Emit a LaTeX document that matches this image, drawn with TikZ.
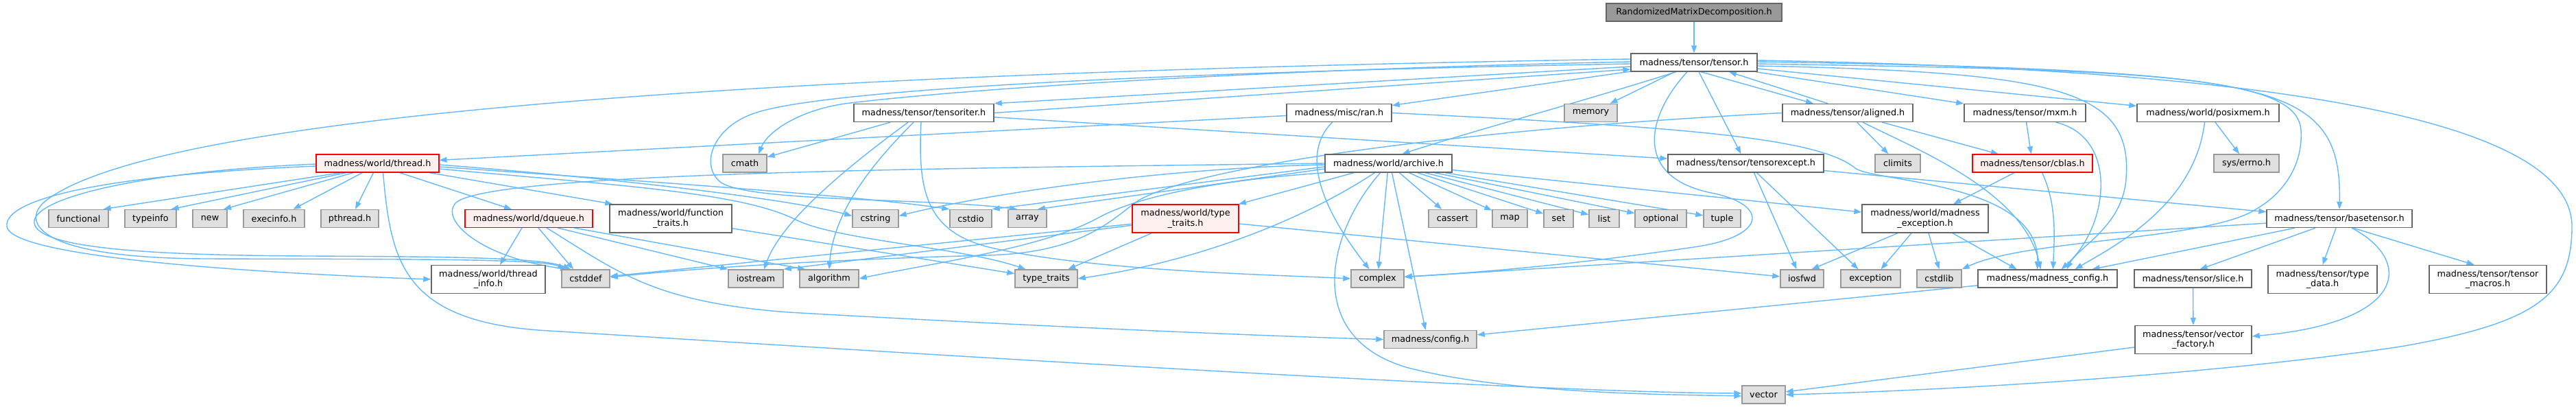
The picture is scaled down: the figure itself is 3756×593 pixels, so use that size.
\documentclass[tikz,border=0pt]{standalone}
\usepackage{fontspec}
\setmainfont{DejaVu Sans}
\usetikzlibrary{arrows.meta}
\pgfdeclarelayer{bg}
\pgfsetlayers{bg,main}
\definecolor{edgeblue}{HTML}{63B8FF}
\definecolor{sysfill}{HTML}{E0E0E0}
\definecolor{sysdraw}{HTML}{999999}
\definecolor{boxdraw}{HTML}{666666}
\definecolor{redfill}{HTML}{FFF0F0}
\definecolor{redline}{HTML}{FF0000}
\begin{document}
\begin{tikzpicture}[x=1pt,y=-1pt,
  font=\fontsize{12.8}{14.5}\selectfont,
  filebox/.style={draw=boxdraw,fill=white,line width=1.4pt,inner sep=0pt,align=center,minimum height=26pt},
  sysbox/.style={filebox,draw=sysdraw,fill=sysfill},
  redbox/.style={filebox,draw=redline,fill=redfill,line width=1.1pt},
  rootbox/.style={filebox,draw=boxdraw,fill=sysdraw},
  tall/.style={minimum height=41pt},
  dep/.style={draw=edgeblue,line width=1.4pt,-{Triangle[length=11pt,width=8pt]}}]
\useasboundingbox (0,0) rectangle (3756,593);

% nodes
\node[rootbox,minimum width=256pt] (R) at (2470,18) {RandomizedMatrixDecomposition.h};
\node[filebox,minimum width=184pt] (T) at (2470,91) {madness/tensor/tensor.h};
\node[filebox,minimum width=204pt] (TI) at (1347,164.5) {madness/tensor/tensoriter.h};
\node[filebox,minimum width=153pt] (ran) at (1952.5,164.5) {madness/misc/ran.h};
\node[sysbox,minimum width=77pt] (memory) at (2319.5,164.5) {memory};
\node[filebox,minimum width=190pt] (aligned) at (2694,164.5) {madness/tensor/aligned.h};
\node[filebox,minimum width=177pt] (mxm) at (2952.5,164.5) {madness/tensor/mxm.h};
\node[filebox,minimum width=207pt] (posixmem) at (3219.5,164.5) {madness/world/posixmem.h};
\node[redbox,minimum width=179pt] (thread) at (550.5,238) {madness/world/thread.h};
\node[sysbox,minimum width=64pt] (cmath) at (1086,238) {cmath};
\node[filebox,minimum width=185pt] (archive) at (2024.5,238) {madness/world/archive.h};
\node[filebox,minimum width=227pt] (texcept) at (2545.5,238) {madness/tensor/tensorexcept.h};
\node[sysbox,minimum width=66pt] (climits) at (2767,238) {climits};
\node[redbox,minimum width=175pt] (cblas) at (2963.5,238) {madness/tensor/cblas.h};
\node[sysbox,minimum width=95pt] (errno) at (3275.5,238) {sys/errno.h};
\node[sysbox,minimum width=87pt] (functional) at (114.5,318.5) {functional};
\node[sysbox,minimum width=75pt] (typeinfo) at (219.5,318.5) {typeinfo};
\node[sysbox,minimum width=50pt] (nnew) at (306,318.5) {new};
\node[sysbox,minimum width=89pt] (execinfo) at (399.5,318.5) {execinfo.h};
\node[sysbox,minimum width=84pt] (pthread) at (510,318.5) {pthread.h};
\node[redbox,minimum width=186pt] (dqueue) at (771,318.5) {madness/world/dqueue.h};
\node[filebox,tall,minimum width=178pt] (ftraits) at (978,318.5) {madness/world/function\\\_traits.h};
\node[sysbox,minimum width=67pt] (cstring) at (1276.5,318.5) {cstring};
\node[sysbox,minimum width=61pt] (cstdio) at (1415.5,318.5) {cstdio};
\node[sysbox,minimum width=56pt] (array) at (1498,318.5) {array};
\node[redbox,tall,minimum width=155pt] (wtt) at (1728.5,318.5) {madness/world/type\\\_traits.h};
\node[sysbox,minimum width=70pt] (cassert) at (2118,318.5) {cassert};
\node[sysbox,minimum width=51pt] (nmap) at (2201.5,318.5) {map};
\node[sysbox,minimum width=43pt] (nset) at (2272.5,318.5) {set};
\node[sysbox,minimum width=44pt] (nlist) at (2339,318.5) {list};
\node[sysbox,minimum width=75pt] (optional) at (2421.5,318.5) {optional};
\node[sysbox,minimum width=54pt] (tuple) at (2511,318.5) {tuple};
\node[filebox,tall,minimum width=184pt] (mexc) at (2807,318.5) {madness/world/madness\\\_exception.h};
\node[filebox,minimum width=212pt] (basetensor) at (3411,318.5) {madness/tensor/basetensor.h};
\node[filebox,tall,minimum width=166pt] (tinfo) at (712,407) {madness/world/thread\\\_info.h};
\node[sysbox,minimum width=70pt] (cstddef) at (854,406) {cstddef};
\node[sysbox,minimum width=80pt] (iostream) at (1102,406) {iostream};
\node[sysbox,minimum width=86pt] (algorithm) at (1209,406) {algorithm};
\node[sysbox,minimum width=91pt] (stt) at (1525.5,406) {type\_traits};
\node[sysbox,minimum width=77pt] (complex) at (2008.5,406) {complex};
\node[sysbox,minimum width=63pt] (iosfwd) at (2627.5,406) {iosfwd};
\node[sysbox,minimum width=87pt] (exception) at (2727.5,406) {exception};
\node[sysbox,minimum width=65pt] (cstdlib) at (2827.5,406) {cstdlib};
\node[filebox,minimum width=203pt] (mconfig) at (2985.5,406) {madness/madness\_config.h};
\node[filebox,minimum width=171pt] (slice) at (3197.5,406) {madness/tensor/slice.h};
\node[filebox,tall,minimum width=159pt] (tdata) at (3386.5,407) {madness/tensor/type\\\_data.h};
\node[filebox,tall,minimum width=171pt] (macros) at (3627.5,407) {madness/tensor/tensor\\\_macros.h};
\node[sysbox,minimum width=135pt] (config) at (2085.5,494.5) {madness/config.h};
\node[filebox,tall,minimum width=170pt] (vfactory) at (3198,495) {madness/tensor/vector\\\_factory.h};
\node[sysbox,minimum width=63pt] (vector) at (2571.5,575) {vector};

\begin{pgfonlayer}{bg}
\fill[white] (0,0) rectangle (3756,593);
% root / tensor.h
\draw[dep] (R) -- (T);
\draw[dep] ([yshift=-6pt]T.west) -- (TI.north east);
\draw[dep] (TI.east) -- ([yshift=-10pt]T.west);
\draw[dep] (T) -- (memory);
\draw[dep] (T) -- (ran);
\draw[dep] ([xshift=-26pt]T.south) .. controls (2300,150) and (2150,190) .. ([xshift=20pt]archive.north);
\draw[dep] (T) -- (texcept);
\draw[dep] ([xshift=10pt]T.south) -- ([xshift=-50pt]aligned.north);
\draw[dep] ([xshift=-29pt]aligned.north) -- ([xshift=51pt]T.south);
\draw[dep] (T) -- (mxm);
\draw[dep] (T) -- (posixmem);
\draw[dep] ([yshift=-2pt]T.east) .. controls (3300,105) and (3415,110) .. (basetensor.north);
\draw[dep] ([yshift=3pt]T.east) .. controls (3400,102) and (3750,190) .. (3750,330) .. controls (3750,430) and (3700,470) .. (3500,505) .. controls (3200,550) and (2800,570) .. (vector.east);
\draw[dep] ([yshift=-5pt]T.east) .. controls (3000,105) and (3110,130) .. (3100,260) .. controls (3095,330) and (3030,360) .. ([xshift=28pt]mconfig.north);
\draw[dep] ([yshift=1pt]T.east) .. controls (3200,100) and (3350,120) .. (3355,190) .. controls (3358,240) and (3330,285) .. (3280,310) .. controls (3200,350) and (2950,350) .. (cstdlib.north east);
\draw[dep] ([xshift=-10pt]T.south) .. controls (2400,170) and (2380,260) .. (2500,282) .. controls (2580,300) and (2575,345) .. (2470,360) .. controls (2300,385) and (2150,398) .. ([yshift=3pt]complex.east);
\draw[dep] ([yshift=1pt]T.west) .. controls (1900,100) and (1450,125) .. (1240,150) .. controls (1170,158) and (1120,190) .. ([xshift=20pt]cmath.north);
\draw[dep] ([yshift=-2pt]T.west) .. controls (1700,105) and (1200,130) .. (1100,165) .. controls (1040,185) and (1020,240) .. (1050,265) .. controls (1090,295) and (1350,288) .. ([xshift=-15pt]array.north);
\draw[dep] ([yshift=5pt]T.west) .. controls (1200,105) and (250,160) .. (70,290) .. controls (30,318) and (40,376) .. (300,377) .. controls (550,378) and (790,376) .. ([xshift=-30pt]cstddef.north);
% tensoriter.h
\draw[dep] (TI) -- (cmath);
\draw[dep] ([xshift=-4pt]TI.south) .. controls (1338,280) and (1350,340) .. (1450,362) .. controls (1600,395) and (1850,400) .. (complex.west);
\draw[dep] ([xshift=-23pt]TI.south) .. controls (1240,240) and (1140,320) .. ([xshift=12pt]iostream.north);
\draw[dep] ([xshift=-15pt]TI.south) .. controls (1270,240) and (1215,310) .. (algorithm.north);
\draw[dep] (TI) -- (texcept);
% ran.h
\draw[dep] (ran) -- (thread);
\draw[dep] ([xshift=-10pt]ran.south) .. controls (1890,230) and (1940,320) .. ([xshift=-12pt]complex.north);
\draw[dep] (ran.east) .. controls (2450,185) and (2650,200) .. (2705,245) .. controls (2730,265) and (2975,265) .. ([xshift=-15pt]mconfig.north);
% aligned.h
\draw[dep] (aligned) -- (climits);
\draw[dep] (aligned) -- (cblas);
\draw[dep] ([xshift=22pt]aligned.south) .. controls (2800,220) and (2950,280) .. ([xshift=-10pt]mconfig.north);
\draw[dep] (aligned.west) .. controls (2100,190) and (1740,245) .. (1660,292) .. controls (1620,320) and (1580,368) .. (1440,372) .. controls (1200,378) and (1000,392) .. ([yshift=2pt]cstddef.east);
% mxm.h, posixmem.h, cblas.h
\draw[dep] (mxm) -- (cblas);
\draw[dep] ([xshift=45pt]mxm.south) .. controls (3090,200) and (3075,330) .. ([xshift=20pt]mconfig.north);
\draw[dep] (posixmem) -- (errno);
\draw[dep] ([xshift=-5pt]posixmem.south) .. controls (3200,300) and (3080,360) .. ([xshift=40pt]mconfig.north);
\draw[dep] (cblas) -- (mexc);
\draw[dep] ([xshift=14pt]cblas.south) .. controls (3000,300) and (2995,350) .. ([xshift=8pt]mconfig.north);
% thread.h
\draw[dep] ([xshift=-53pt]thread.south) -- ([xshift=36pt]functional.north);
\draw[dep] ([xshift=-45pt]thread.south) -- ([xshift=30pt]typeinfo.north);
\draw[dep] ([xshift=-35pt]thread.south) -- ([xshift=20pt]nnew.north);
\draw[dep] ([xshift=-22pt]thread.south) -- ([xshift=28pt]execinfo.north);
\draw[dep] ([xshift=-6pt]thread.south) -- ([xshift=8pt]pthread.north);
\draw[dep] ([xshift=32pt]thread.south) -- ([xshift=-25pt]dqueue.north);
\draw[dep] ([xshift=-15pt]thread.south east) -- ([xshift=5pt]ftraits.north west);
\draw[dep] ([yshift=-4pt]thread.west) .. controls (150,255) and (5,290) .. (10,330) .. controls (15,370) and (300,395) .. (tinfo.west);
\draw[dep] ([yshift=-1pt]thread.west) .. controls (200,250) and (45,290) .. (50,325) .. controls (55,360) and (200,372) .. (450,373) .. controls (650,374) and (790,375) .. ([xshift=-22pt]cstddef.north);
\draw[dep] ([xshift=8pt]thread.south) .. controls (570,380) and (585,470) .. (800,482) .. controls (1100,500) and (2200,572) .. ([yshift=2pt]vector.west);
\draw[dep] ([yshift=-2pt]thread.east) .. controls (900,260) and (1150,290) .. ([yshift=4pt]cstring.west);
\draw[dep] ([yshift=-5pt]thread.east) .. controls (950,265) and (1250,285) .. (cstdio.north west);
\draw[dep] ([yshift=-8pt]thread.east) .. controls (900,270) and (1080,280) .. (1160,320) .. controls (1220,350) and (1400,360) .. ([xshift=-30pt]stt.north);
% dqueue.h, function_traits.h, type_traits.h
\draw[dep] ([xshift=-10pt]dqueue.south) -- ([xshift=17pt]tinfo.north);
\draw[dep] ([xshift=14pt]dqueue.south) -- ([xshift=-18pt]cstddef.north);
\draw[dep] ([xshift=42pt]dqueue.south) -- (iostream.north west);
\draw[dep] ([xshift=66pt]dqueue.south) -- ([xshift=-35pt]algorithm.north);
\draw[dep] ([xshift=26pt]dqueue.south) .. controls (900,395) and (950,440) .. (1150,455) .. controls (1500,475) and (1850,490) .. (config.west);
\draw[dep] (ftraits) -- (stt);
\draw[dep] (wtt) -- (stt);
\draw[dep] (wtt) -- (iosfwd);
\draw[dep] (wtt) -- (cstddef);
\draw[dep] (wtt) -- (iostream.north east);
% archive.h
\draw[dep] (archive) -- (wtt);
\draw[dep] ([xshift=-20pt]archive.south) .. controls (1900,320) and (1750,380) .. (stt.east);
\draw[dep] (archive) -- (complex);
\draw[dep] ([xshift=5pt]archive.south) -- ([xshift=-7pt]config.north);
\draw[dep] ([xshift=-12pt]archive.south) .. controls (1935,340) and (1900,490) .. (2050,535) .. controls (2200,575) and (2450,575) .. ([yshift=-2pt]vector.west);
\draw[dep] (archive) -- (cassert);
\draw[dep] (archive) -- (nmap);
\draw[dep] (archive) -- (nset);
\draw[dep] (archive) -- (nlist);
\draw[dep] (archive) -- (optional);
\draw[dep] (archive) -- (tuple);
\draw[dep] (archive) -- (mexc);
\draw[dep] (archive.south west) .. controls (1780,262) and (1660,285) .. (1600,318) .. controls (1520,362) and (1350,385) .. (algorithm.east);
\draw[dep] (archive.west) .. controls (1400,245) and (720,250) .. (665,295) .. controls (640,320) and (700,375) .. ([xshift=-26pt]cstddef.north);
\draw[dep] ([yshift=-2pt]archive.west) .. controls (1700,245) and (1450,280) .. ([yshift=4pt]cstring.east);
\draw[dep] ([yshift=-5pt]archive.west) -- (cstdio.north east);
\draw[dep] ([yshift=-8pt]archive.west) -- ([xshift=15pt]array.north);
% tensorexcept.h
\draw[dep] ([xshift=12pt]texcept.south) -- ([xshift=-8pt]iosfwd.north);
\draw[dep] ([xshift=16pt]texcept.south) -- ([xshift=-18pt]exception.north);
\draw[dep] (texcept) -- (basetensor);
% madness_exception.h
\draw[dep] ([xshift=-40pt]mexc.south) -- ([xshift=14pt]iosfwd.north);
\draw[dep] ([xshift=-20pt]mexc.south) -- ([xshift=15pt]exception.north);
\draw[dep] ([xshift=5pt]mexc.south) -- (cstdlib.north);
\draw[dep] ([xshift=40pt]mexc.south) -- ([xshift=-45pt]mconfig.north);
% basetensor.h
\draw[dep] ([xshift=-65pt]basetensor.south) -- ([xshift=65pt]mconfig.north);
\draw[dep] ([xshift=-35pt]basetensor.south) -- ([xshift=10pt]slice.north);
\draw[dep] ([xshift=-5pt]basetensor.south) -- (tdata.north);
\draw[dep] ([xshift=20pt]basetensor.south) -- ([xshift=-20pt]macros.north);
\draw[dep] ([xshift=18pt]basetensor.south) .. controls (3520,380) and (3510,470) .. ([yshift=5pt]vfactory.east);
\draw[dep] (basetensor) -- (complex);
% rest
\draw[dep] (slice) -- (vfactory);
\draw[dep] (vfactory) -- (vector);
\draw[dep] (mconfig) -- (config);
\end{pgfonlayer}
\end{tikzpicture}
\end{document}
